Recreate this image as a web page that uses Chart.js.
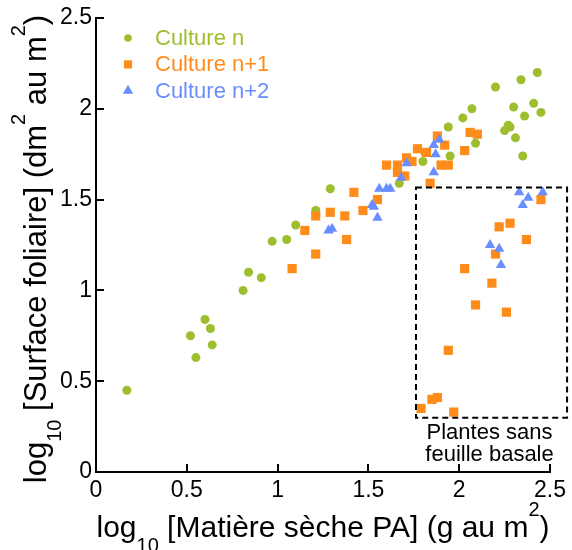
<!DOCTYPE html>
<html><head><meta charset="utf-8">
<script src="https://cdn.jsdelivr.net/npm/chart.js@4.4.0/dist/chart.umd.min.js"></script>
<style>html,body{margin:0;padding:0;background:#fff;}canvas{display:block;}</style>
</head><body>
<canvas id="c" width="572" height="550"></canvas>
<script>
// ---------- data ----------
const seriesNames = ['Culture n', 'Culture n+1', 'Culture n+2'];
const seriesColors = ['#9dbe2d', '#ff8c1a', '#6a8dff'];

const cultureN_x = [0.17,0.52,0.55,0.60,0.63,0.64,0.81,0.84,0.91,0.97,1.05,1.10,1.21,1.29,1.67,1.80,1.81,1.95,1.94,2.02,2.07,2.09,2.20,2.34,2.43,2.30,2.41,2.45,2.36,2.27,2.28,2.25,2.31,2.35];
const cultureN_y = [0.45,0.75,0.63,0.84,0.79,0.70,1.00,1.10,1.07,1.27,1.28,1.36,1.44,1.56,1.59,1.71,1.76,1.74,1.90,1.95,2.00,1.81,2.12,2.16,2.20,2.01,2.03,1.98,1.96,1.91,1.90,1.88,1.84,1.74];

const cultureN1_x = [1.08,1.15,1.21,1.21,1.29,1.37,1.38,1.42,1.47,1.55,1.60,1.66,1.66,1.70,1.71,1.74,1.77,1.82,1.84,1.88,1.92,1.90,1.94,2.03,2.06,2.10,2.45,2.22,2.28,2.37,2.20,2.03,2.18,2.09,2.26,1.94,1.85,1.88,1.79,1.97];
const cultureN1_y = [1.12,1.33,1.41,1.20,1.43,1.41,1.28,1.54,1.44,1.50,1.69,1.69,1.65,1.63,1.73,1.71,1.78,1.76,1.59,1.85,1.80,1.69,1.69,1.77,1.87,1.86,1.50,1.35,1.37,1.28,1.20,1.12,1.04,0.92,0.88,0.67,0.40,0.41,0.35,0.33];

const cultureN2_x = [1.28,1.30,1.52,1.53,1.55,1.56,1.60,1.62,1.68,1.71,1.86,1.87,1.86,1.89,2.17,2.22,2.23,2.33,2.35,2.38,2.46];
const cultureN2_y = [1.33,1.34,1.47,1.46,1.40,1.56,1.56,1.56,1.62,1.70,1.65,1.75,1.80,1.83,1.25,1.23,1.14,1.54,1.47,1.51,1.54];

const xTickLabels = ['0', '0.5', '1', '1.5', '2', '2.5'];
const yTickLabels = ['0', '0.5', '1', '1.5', '2', '2.5'];

const boxRange = { xMin: 1.762, xMax: 2.594, yMin: 0.299, yMax: 1.566 };
const boxLabel = ['Plantes sans', 'feuille basale'];

const xTitleParts = [['log','n'],['10','sub'],[' [Matière sèche PA] (g au m','n'],['2','sup'],[')','n']];
const yTitleParts = [['log','n'],['10','sub'],[' [Surface foliaire] (dm','n'],['2','sup'],[' au m','n'],['2','sup'],[')','n']];

// ---------- helpers ----------
const FONT = "'Liberation Sans', Arial, Helvetica, sans-serif";
function toPoints(xs, ys) { return xs.map((x, i) => ({ x: x, y: ys[i] })); }

function drawRich(ctx, parts, cx, baseY, mainSize, subSize) {
  let total = 0;
  const widths = parts.map(p => {
    ctx.font = (p[1] === 'n' ? mainSize : subSize) + 'px ' + FONT;
    const w = ctx.measureText(p[0]).width; total += w; return w;
  });
  let x = cx - total / 2;
  ctx.textAlign = 'left'; ctx.textBaseline = 'alphabetic'; ctx.fillStyle = '#000';
  parts.forEach((p, i) => {
    ctx.font = (p[1] === 'n' ? mainSize : subSize) + 'px ' + FONT;
    let dy = 0;
    if (p[1] === 'sub') dy = 15;
    if (p[1] === 'sup') dy = -21;
    ctx.fillText(p[0], x, baseY + dy);
    x += widths[i];
  });
}

function drawMarker(ctx, style, x, y, r, color) {
  ctx.fillStyle = color;
  ctx.beginPath();
  if (style === 'circle') {
    ctx.arc(x, y, r, 0, Math.PI * 2);
  } else if (style === 'rect') {
    const s = Math.SQRT1_2 * r;
    ctx.rect(x - s, y - s, 2 * s, 2 * s);
  } else {
    for (let k = 0; k < 3; k++) {
      const a = k * 2 * Math.PI / 3;
      const px = x + Math.sin(a) * r, py = y - Math.cos(a) * r;
      if (k === 0) ctx.moveTo(px, py); else ctx.lineTo(px, py);
    }
    ctx.closePath();
  }
  ctx.fill();
}

const decorPlugin = {
  id: 'decor',
  afterDraw(chart) {
    const ctx = chart.ctx, xs = chart.scales.x, ys = chart.scales.y, ca = chart.chartArea;
    ctx.save();
    // inward tick marks
    ctx.strokeStyle = '#000'; ctx.lineWidth = 2; ctx.setLineDash([]);
    xs.ticks.forEach(t => {
      const px = Math.round(xs.getPixelForValue(t.value));
      ctx.beginPath(); ctx.moveTo(px, ca.bottom); ctx.lineTo(px, ca.bottom - 8); ctx.stroke();
    });
    ys.ticks.forEach(t => {
      const py = Math.round(ys.getPixelForValue(t.value));
      ctx.beginPath(); ctx.moveTo(ca.left, py); ctx.lineTo(ca.left + 8, py); ctx.stroke();
    });
    // dashed box
    const bx1 = xs.getPixelForValue(boxRange.xMin), bx2 = xs.getPixelForValue(boxRange.xMax);
    const by1 = ys.getPixelForValue(boxRange.yMax), by2 = ys.getPixelForValue(boxRange.yMin);
    ctx.setLineDash([6, 4]); ctx.lineWidth = 2;
    ctx.strokeRect(bx1, by1, bx2 - bx1, by2 - by1);
    ctx.setLineDash([]);
    // box label
    ctx.fillStyle = '#000'; ctx.font = '22px ' + FONT; ctx.textAlign = 'center'; ctx.textBaseline = 'alphabetic';
    const lx = (bx1 + bx2) / 2 - 2;
    ctx.fillText(boxLabel[0], lx, by2 + 21);
    ctx.fillText(boxLabel[1], lx, by2 + 43);
    // legend
    const styles = ['circle', 'rect', 'triangle'];
    const radii = [3.8, 5.8, 6];
    seriesNames.forEach((name, i) => {
      const my = ca.top + 20 + i * 26.4;
      drawMarker(ctx, styles[i], ca.left + 32, my, radii[i], seriesColors[i]);
      ctx.fillStyle = seriesColors[i]; ctx.font = '22px ' + FONT;
      ctx.textAlign = 'left'; ctx.textBaseline = 'middle';
      ctx.fillText(name, ca.left + 59, my + 1);
    });
    // axis titles
    drawRich(ctx, xTitleParts, (ca.left + ca.right) / 2, 537, 30, 20);
    ctx.save();
    ctx.translate(46, (ca.top + ca.bottom) / 2 + 4);
    ctx.rotate(-Math.PI / 2);
    drawRich(ctx, yTitleParts, 0, 0, 31, 20);
    ctx.restore();
    ctx.restore();
  }
};

const ds = (i, xs, ys, style, r, order) => ({
  label: seriesNames[i], data: toPoints(xs, ys),
  backgroundColor: seriesColors[i], borderColor: seriesColors[i],
  pointStyle: style, pointRadius: r, pointBorderWidth: 0, pointHoverRadius: r, order: order
});

new Chart(document.getElementById('c'), {
  type: 'scatter',
  data: {
    datasets: [
      ds(0, cultureN_x, cultureN_y, 'circle', 4.5, 3),
      ds(1, cultureN1_x, cultureN1_y, 'rect', 6.5, 2),
      ds(2, cultureN2_x, cultureN2_y, 'triangle', 6, 1)
    ]
  },
  options: {
    responsive: false, animation: false, devicePixelRatio: 1,
    layout: { padding: { top: 18, right: 22, left: 0, bottom: 0 } },
    plugins: { legend: { display: false }, tooltip: { enabled: false } },
    scales: {
      x: {
        type: 'linear', min: 0, max: 2.5,
        grid: { display: false, drawTicks: false },
        border: { display: true, color: '#000', width: 2 },
        ticks: { stepSize: 0.5, color: '#000', padding: 5, maxRotation: 0,
          font: { family: FONT, size: 23 }, callback: (v, i) => xTickLabels[i] },
        afterFit: s => { s.height = 78; }
      },
      y: {
        type: 'linear', min: 0, max: 2.5,
        grid: { display: false, drawTicks: false },
        border: { display: true, color: '#000', width: 2 },
        ticks: { stepSize: 0.5, color: '#000', padding: 4,
          font: { family: FONT, size: 23 }, callback: (v, i) => yTickLabels[i] },
        afterFit: s => { s.width = 96; }
      }
    }
  },
  plugins: [decorPlugin]
});
</script>
</body></html>
